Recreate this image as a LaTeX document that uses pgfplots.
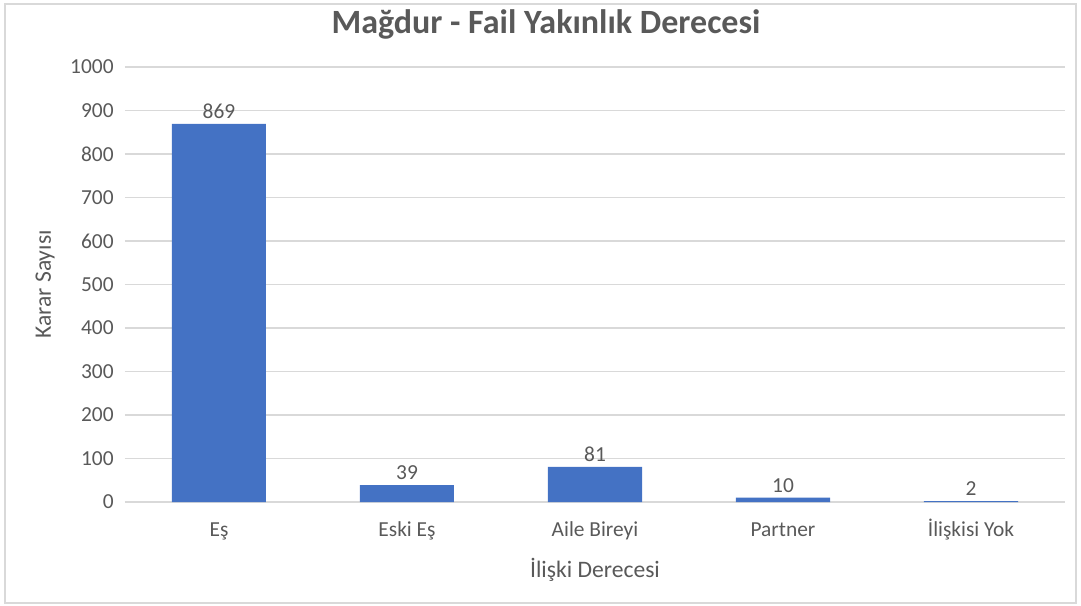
\documentclass[border=0pt]{standalone}
\usepackage{pgfplots}
\pgfplotsset{compat=1.18}
\usepackage{fontspec}
\setmainfont{Carlito}
\definecolor{barblue}{HTML}{4472C4}
\definecolor{txtgray}{HTML}{595959}
\definecolor{gridgray}{HTML}{D9D9D9}
\definecolor{framegray}{HTML}{D9D9D9}
\begin{document}
\begin{tikzpicture}
\useasboundingbox (0,0) rectangle (540.5pt,302.5pt);
\draw[framegray, line width=0.6pt] (2.5pt,1pt) rectangle (538pt,300.5pt);
\node[font=\fontsize{17}{20}\selectfont\bfseries, text=txtgray] at (273pt,290.5pt) {Mağdur - Fail Yakınlık Derecesi};
\begin{axis}[
  at={(62.5pt,51.5pt)}, anchor=south west,
  scale only axis, width=470pt, height=217.5pt,
  xmin=-0.5, xmax=4.5, ymin=0, ymax=1000,
  ytick={0,100,...,1000},
  xtick=data,
  xticklabels={Eş,Eski Eş,Aile Bireyi,Partner,İlişkisi Yok},
  axis line style={draw=none},
  major tick length=0pt,
  ymajorgrids, grid style={gridgray, line width=0.6pt},
  tick label style={font=\fontsize{10.7}{12.5}\selectfont, text=txtgray},
  /pgf/number format/assume math mode=true,
  /pgf/number format/1000 sep={},
  yticklabel style={anchor=east, inner sep=0pt, xshift=-5.5pt},
  xticklabel style={anchor=base, inner sep=0pt, yshift=-17pt},
  ylabel={Karar Sayısı}, xlabel={İlişki Derecesi},
  label style={font=\fontsize{11.8}{14}\selectfont, text=txtgray},
  ylabel style={at={(axis description cs:-0.0851,0.5)}, anchor=center},
  xlabel style={at={(axis description cs:0.5,-0.156)}, anchor=center},
  ybar, bar width=47pt,
  nodes near coords,
  nodes near coords style={font=\fontsize{10.7}{12.5}\selectfont, text=txtgray, anchor=south, inner sep=2.5pt},
  clip=false,
]
\addplot[fill=barblue, draw=none] coordinates {(0,869) (1,39) (2,81) (3,10) (4,2)};
\end{axis}
\end{tikzpicture}
\end{document}
